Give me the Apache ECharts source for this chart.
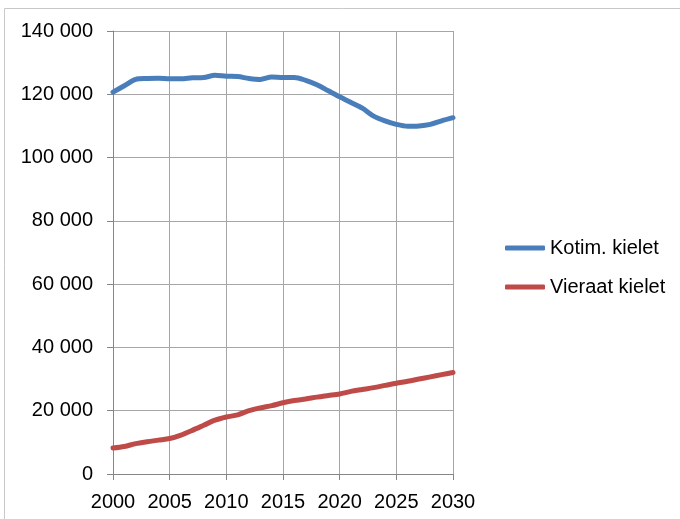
<!DOCTYPE html>
<html>
<head>
<meta charset="utf-8">
<script src="https://cdn.jsdelivr.net/npm/echarts@6/dist/echarts.min.js"></script>
<style>
  html, body { margin: 0; padding: 0; background: #fff; }
</style>
</head>
<body>
<div id="chart" style="width:680px;height:519px;"></div>
<script>
  var years = [2000, 2001, 2002, 2003, 2004, 2005, 2006, 2007, 2008, 2009, 2010,
    2011, 2012, 2013, 2014, 2015, 2016, 2017, 2018, 2019, 2020,
    2021, 2022, 2023, 2024, 2025, 2026, 2027, 2028, 2029, 2030];
  var kotimKielet = [120700, 122700, 124700, 125000, 125100, 124900, 124900, 125200, 125300, 126000, 125700,
    125600, 125000, 124700, 125500, 125300, 125300, 124400, 123000, 121100, 119200,
    117400, 115600, 113100, 111600, 110500, 109900, 110000, 110500, 111600, 112600];
  var vieraatKielet = [8200, 8700, 9600, 10200, 10700, 11200, 12300, 13800, 15400, 17000, 18000,
    18700, 20000, 20900, 21600, 22500, 23200, 23700, 24300, 24800, 25300,
    26100, 26700, 27300, 28000, 28700, 29300, 30000, 30700, 31400, 32100];
  var seriesNames = ['Kotim. kielet', 'Vieraat kielet'];

  function pairs(vals) {
    return years.map(function (y, i) { return [y, vals[i]]; });
  }

  var font = 'Liberation Sans, Arial, sans-serif';
  var myChart = echarts.init(document.getElementById('chart'));
  myChart.setOption({
    animation: false,
    textStyle: { fontFamily: font },
    graphic: [{
      type: 'rect',
      shape: { x: 4.5, y: 8.5, width: 700, height: 600 },
      style: { fill: 'none', stroke: '#c8c8c8', lineWidth: 1 },
      silent: true
    }],
    grid: { left: 113, right: 227, top: 31, bottom: 45 },
    legend: {
      orient: 'vertical',
      left: 500,
      top: 233,
      icon: 'roundRect',
      itemWidth: 40,
      itemHeight: 5,
      itemGap: 19,
      textStyle: { fontSize: 20, color: '#000', fontFamily: font, lineHeight: 20 },
      data: seriesNames
    },
    xAxis: {
      type: 'value',
      min: 2000,
      max: 2030,
      interval: 5,
      axisLine: { lineStyle: { color: '#868686', width: 1 } },
      axisTick: { show: true, length: 6, lineStyle: { color: '#868686' } },
      axisLabel: {
        fontSize: 20, color: '#000', margin: 18, fontFamily: font,
        formatter: function (v) { return String(v); }
      },
      splitLine: { show: true, lineStyle: { color: '#a6a6a6', width: 1 } }
    },
    yAxis: {
      type: 'value',
      min: 0,
      max: 140000,
      interval: 20000,
      axisLine: { show: true, lineStyle: { color: '#868686', width: 1 } },
      axisTick: { show: true, length: 6, lineStyle: { color: '#868686' } },
      axisLabel: {
        fontSize: 20, color: '#000', margin: 20, fontFamily: font,
        formatter: function (v) {
          return String(v).replace(/\B(?=(\d{3})+(?!\d))/g, ' ');
        }
      },
      splitLine: { show: true, lineStyle: { color: '#a6a6a6', width: 1 } }
    },
    series: [
      {
        name: seriesNames[0],
        type: 'line',
        data: pairs(kotimKielet),
        smooth: 0.3,
        symbol: 'none',
        lineStyle: { color: '#4a7ebb', width: 5, cap: 'round' },
        itemStyle: { color: '#4a7ebb' }
      },
      {
        name: seriesNames[1],
        type: 'line',
        data: pairs(vieraatKielet),
        smooth: 0.3,
        symbol: 'none',
        lineStyle: { color: '#be4b48', width: 5, cap: 'round' },
        itemStyle: { color: '#be4b48' }
      }
    ]
  });
</script>
</body>
</html>
